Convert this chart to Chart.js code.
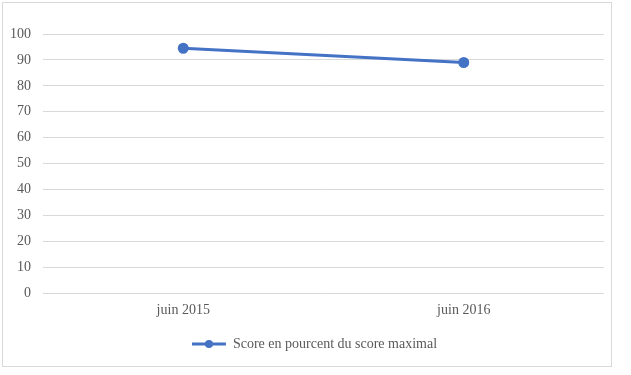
<!DOCTYPE html>
<html>
<head>
<meta charset="utf-8">
<script src="https://cdn.jsdelivr.net/npm/chart.js@4/dist/chart.umd.min.js"></script>
<style>
    html, body { margin: 0; padding: 0; background: #fff; }
    .chart-box {
        position: absolute;
        left: 2px; top: 2px;
        width: 610px; height: 365px;
        border: 1px solid #d9d9d9;
        box-sizing: border-box;
    }
</style>
</head>
<body>
<div class="chart-box"><canvas id="scoreChart"></canvas></div>
<script>
// données du graphique
const categories = ['juin 2015', 'juin 2016'];
const scoreValues = [94.5, 89];
const seriesLabel = 'Score en pourcent du score maximal';
const yTicks = [0, 10, 20, 30, 40, 50, 60, 70, 80, 90, 100];

const lineColor = '#4472c4';
const textColor = '#595959';

Chart.defaults.font.family = '"Liberation Serif", serif';
Chart.defaults.font.size = 14;
Chart.defaults.color = textColor;

const ctx = document.getElementById('scoreChart').getContext('2d');
new Chart(ctx, {
    type: 'line',
    data: {
        labels: categories,
        datasets: [{
            label: seriesLabel,
            data: scoreValues,
            borderColor: lineColor,
            backgroundColor: lineColor,
            borderWidth: 3,
            pointRadius: 4,
            pointHoverRadius: 4,
            pointStyle: 'circle',
            tension: 0
        }]
    },
    options: {
        responsive: true,
        maintainAspectRatio: false,
        animation: false,
        layout: { padding: { left: 0, right: 3, top: 31, bottom: 5 } },
        plugins: {
            tooltip: { enabled: false },
            legend: {
                position: 'bottom',
                labels: {
                    boxWidth: 34,
                    boxHeight: 3,
                    padding: 9,
                    generateLabels(chart) {
                        const items = Chart.defaults.plugins.legend.labels.generateLabels(chart);
                        items.forEach(it => { it.fillStyle = lineColor; it.strokeStyle = lineColor; it.lineWidth = 0; });
                        return items;
                    }
                }
            }
        },
        scales: {
            x: {
                offset: true,
                grid: { display: false, drawTicks: false },
                border: { display: false },
                ticks: { padding: 9 }
            },
            y: {
                min: 0,
                max: 100,
                afterBuildTicks(axis) { axis.ticks = yTicks.map(v => ({ value: v })); },
                afterFit(axis) { axis.width = 40; },
                grid: { color: '#d9d9d9', drawTicks: false },
                border: { display: false },
                ticks: { padding: 12 }
            }
        }
    },
    plugins: [{
        // légende centrée sous la zone de tracé, pas sous tout le canevas
        id: 'legendShift',
        afterLayout(chart) {
            const legend = chart.legend;
            if (!legend) return;
            const dx = 9;
            legend.left += dx;
            legend.right += dx;
            legend.legendHitBoxes.forEach(b => { b.left += dx; });
        }
    }, {
        // pastille ronde au milieu de la ligne de légende
        id: 'legendDot',
        afterDraw(chart) {
            const legend = chart.legend;
            if (!legend || !legend.legendHitBoxes.length) return;
            const box = legend.legendHitBoxes[0];
            const c = chart.ctx;
            c.save();
            c.fillStyle = lineColor;
            c.beginPath();
            c.arc(box.left + 17, box.top + box.height / 2, 4, 0, Math.PI * 2);
            c.fill();
            c.restore();
        }
    }]
});
</script>
</body>
</html>
